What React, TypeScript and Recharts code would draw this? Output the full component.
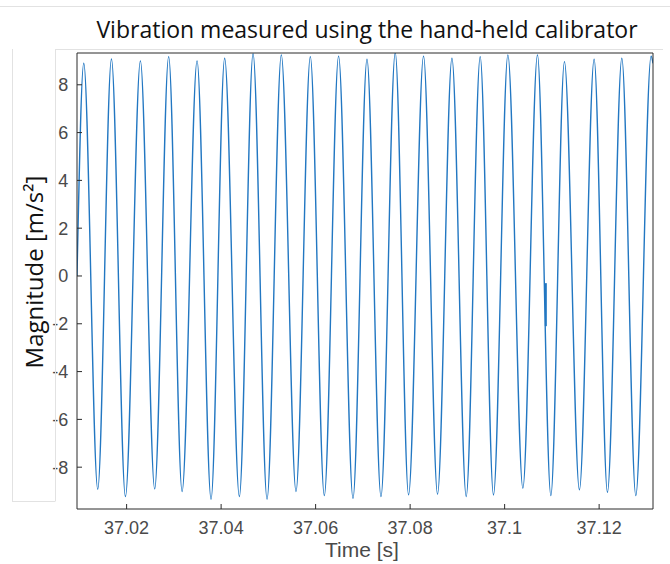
import React from 'react';
import { LineChart, Line, XAxis, YAxis } from 'recharts';

// Signal: local maxima and minima of the vibration trace
const peakTimes = [
  37.01093, 37.01679, 37.02292, 37.0289, 37.03491, 37.04075, 37.04676, 37.05274,
  37.05888, 37.06486, 37.07087, 37.07685, 37.08284, 37.08885, 37.09483, 37.10069,
  37.10695, 37.11266, 37.11894, 37.1248, 37.131,
];
const peakValues = [
  8.9, 9.08, 9.0, 9.18, 9.0, 9.11, 9.3, 9.25, 9.18, 9.2, 9.07, 9.35, 9.2, 9.11,
  9.18, 9.25, 9.25, 8.97, 9.07, 9.11, 9.2,
];
const troughTimes = [
  37.01389, 37.01975, 37.02594, 37.03174, 37.03787, 37.04386, 37.04972, 37.05585,
  37.06184, 37.06791, 37.07383, 37.07967, 37.0858, 37.09187, 37.09764, 37.10386,
  37.10978, 37.11583, 37.12176, 37.12776,
];
const troughValues = [
  -8.92, -9.23, -8.91, -9.02, -9.34, -9.23, -9.34, -9.02, -9.19, -9.3, -9.23,
  -9.16, -9.13, -9.23, -9.16, -8.88, -9.19, -8.95, -9.05, -9.19,
];
const edgeTimes = [37.0095, 37.1314];
const edgeValues = [0.0, 8.9];

// small glitch visible on one falling edge
const glitchTimes = [37.10872, 37.10872];
const glitchValues = [-0.3, -2.1];

const xTicks = [37.02, 37.04, 37.06, 37.08, 37.1, 37.12];
const yTicks = [-8, -6, -4, -2, 0, 2, 4, 6, 8];
const xDomain = [37.0095, 37.1314];
const yDomain = [-9.75, 9.33];

const signal = [
  ...peakTimes.map((t, i) => ({ t, v: peakValues[i] })),
  ...troughTimes.map((t, i) => ({ t, v: troughValues[i] })),
  ...edgeTimes.map((t, i) => ({ t, v: edgeValues[i] })),
].sort((a, b) => a.t - b.t);

const glitch = glitchTimes.map((t, i) => ({ t, v: glitchValues[i] }));

const LINE = '#2277c2';
const AXIS = '#2b2b2b';
const FONT = '"Liberation Sans", Arial, sans-serif';
const tickStyle = { fill: '#4a4a4a', fontSize: 18, fontFamily: FONT };

const Y_AXIS_W = 77;
const Y_LABEL_GAP = 8.7;

function YTick(props: any) {
  const { y, payload } = props;
  return (
    <text
      x={Y_AXIS_W - Y_LABEL_GAP}
      y={y}
      dy="0.355em"
      textAnchor="end"
      fill="#4a4a4a"
      fontSize={18}
      fontFamily={FONT}
    >
      {payload.value}
    </text>
  );
}

export default function App() {
  return (
    <div style={{ position: 'absolute', left: 0, top: 0, width: 670, height: 564, background: '#fff' }}>
      <LineChart
        width={670}
        height={564}
        margin={{ top: 52, right: 16, bottom: 0, left: 0 }}
      >
        <XAxis
          dataKey="t"
          type="number"
          xAxisId="b"
          domain={xDomain}
          ticks={xTicks}
          allowDataOverflow
          height={55}
          tickSize={-5}
          tickMargin={17.5}
          tick={tickStyle}
          axisLine={{ stroke: AXIS }}
          tickLine={{ stroke: AXIS }}
        />
        <XAxis
          dataKey="t"
          type="number"
          xAxisId="top"
          orientation="top"
          domain={xDomain}
          ticks={xTicks}
          allowDataOverflow
          height={1}
          tickSize={-5}
          tick={false}
          axisLine={{ stroke: AXIS }}
          tickLine={{ stroke: AXIS }}
        />
        <YAxis
          type="number"
          yAxisId="l"
          domain={yDomain}
          ticks={yTicks}
          allowDataOverflow
          width={Y_AXIS_W}
          tickSize={-5}
          tickMargin={13.7}
          tick={<YTick />}
          axisLine={{ stroke: AXIS }}
          tickLine={{ stroke: AXIS }}
        />
        <YAxis
          type="number"
          yAxisId="r"
          orientation="right"
          domain={yDomain}
          ticks={yTicks}
          allowDataOverflow
          width={1}
          tickSize={-5}
          tick={false}
          axisLine={{ stroke: AXIS }}
          tickLine={{ stroke: AXIS }}
        />
        <Line
          data={signal}
          xAxisId="b"
          yAxisId="l"
          dataKey="v"
          type="monotone"
          stroke={LINE}
          strokeWidth={1.4}
          dot={false}
          isAnimationActive={false}
        />
        <Line
          data={glitch}
          xAxisId="b"
          yAxisId="l"
          dataKey="v"
          type="linear"
          stroke={LINE}
          strokeWidth={2}
          dot={false}
          isAnimationActive={false}
        />
      </LineChart>
      <svg
        width={670}
        height={564}
        style={{ position: 'absolute', left: 0, top: 0, pointerEvents: 'none' }}
      >
        <g stroke="#e2e2e2" strokeWidth={1} fill="none">
          <line x1={0} y1={6.5} x2={670} y2={6.5} />
          <line x1={12.5} y1={49} x2={12.5} y2={501.5} />
          <line x1={12} y1={501.5} x2={55} y2={501.5} />
          <line x1={55.5} y1={49} x2={55.5} y2={501.5} />
          <line x1={55} y1={49.5} x2={663} y2={49.5} />
        </g>
        <text
          x={367}
          y={38}
          textAnchor="middle"
          fontSize={23}
          fontFamily='"Open Sans", sans-serif'
          fill="#111"
        >
          Vibration measured using the hand-held calibrator
        </text>
        <text
          transform="translate(43,272) rotate(-90)"
          textAnchor="middle"
          fontSize={24}
          fontFamily='"Open Sans", sans-serif'
          fill="#111"
        >
          Magnitude [m/s²]
        </text>
        <text
          x={362}
          y={557}
          textAnchor="middle"
          fontSize={21}
          fontFamily={FONT}
          fill="#4a4a4a"
        >
          Time [s]
        </text>
      </svg>
    </div>
  );
}
